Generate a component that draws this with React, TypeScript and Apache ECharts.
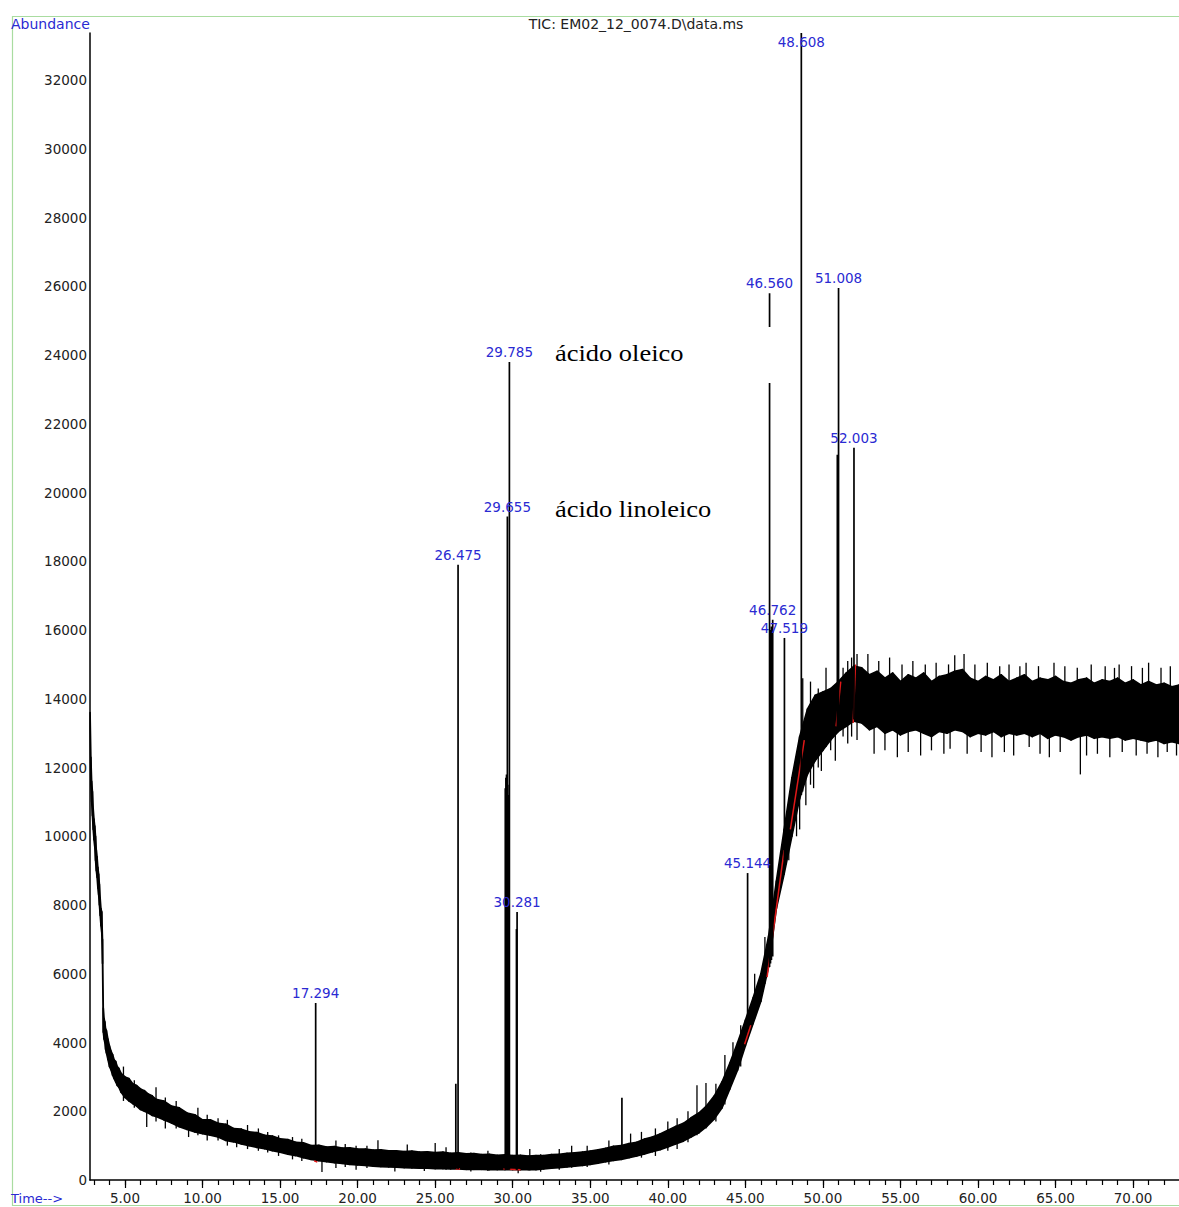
import React, { useEffect, useRef } from "react";
import * as echarts from "echarts";

// ---- data ----
const xMajorTicks = [5, 10, 15, 20, 25, 30, 35, 40, 45, 50, 55, 60, 65, 70];
const xMinorTicks = [3, 4, 5, 6, 7, 8, 9, 10, 11, 12, 13, 14, 15, 16, 17, 18, 19, 20, 21, 22, 23, 24, 25, 26, 27, 28, 29, 30, 31, 32, 33, 34, 35, 36, 37, 38, 39, 40, 41, 42, 43, 44, 45, 46, 47, 48, 49, 50, 51, 52, 53, 54, 55, 56, 57, 58, 59, 60, 61, 62, 63, 64, 65, 66, 67, 68, 69, 70, 71, 72];
const yTicks = [0, 2000, 4000, 6000, 8000, 10000, 12000, 14000, 16000, 18000, 20000, 22000, 24000, 26000, 28000, 30000, 32000];

// baseline noise band (time, upper edge, lower edge)
const bandTime = [2.75, 2.8, 2.85, 2.9, 2.95, 3.0, 3.05, 3.1, 3.15, 3.2, 3.25, 3.3, 3.35, 3.4, 3.45, 3.5, 3.55, 3.6, 3.65, 3.7, 3.75, 3.8, 3.9, 4.0, 4.1, 4.2, 4.3, 4.4, 4.5, 4.6, 4.75, 5.0, 5.25, 5.5, 5.75, 6.0, 6.25, 6.5, 6.75, 7.0, 7.5, 8.0, 8.5, 9.0, 9.5, 10.0, 10.5, 11.0, 11.5, 12.0, 12.5, 13.0, 13.5, 14.0, 14.5, 15.0, 15.5, 16.0, 16.5, 17.0, 17.5, 18.0, 18.5, 19.0, 19.5, 20.0, 20.5, 21.0, 21.5, 22.0, 22.5, 23.0, 23.5, 24.0, 24.5, 25.0, 25.5, 26.0, 26.5, 27.0, 27.5, 28.0, 28.5, 29.0, 29.5, 30.0, 30.5, 31.0, 31.5, 32.0, 32.5, 33.0, 33.5, 34.0, 34.5, 35.0, 35.5, 36.0, 36.5, 37.0, 37.5, 38.0, 38.5, 39.0, 39.5, 40.0, 40.5, 41.0, 41.5, 42.0, 42.5, 43.0, 43.5, 44.0, 44.5, 45.0, 45.5, 46.0, 46.5, 47.0, 47.5, 48.0, 48.5, 49.0, 49.5, 50.0, 50.5, 51.0, 51.5, 52.0, 52.5, 53.0, 53.5, 54.0, 54.5, 55.0, 55.5, 56.0, 56.5, 57.0, 57.5, 58.0, 58.5, 59.0, 59.5, 60.0, 60.5, 61.0, 61.5, 62.0, 62.5, 63.0, 63.5, 64.0, 64.5, 65.0, 65.5, 66.0, 66.5, 67.0, 67.5, 68.0, 68.5, 69.0, 69.5, 70.0, 70.5, 71.0, 71.5, 72.0, 72.5, 73.0];
const bandHigh = [13600, 12300, 11600, 11300, 10800, 10500, 10300, 10000, 9600, 9400, 9100, 8900, 8600, 8200, 7900, 7800, 7000, 5000, 4700, 4600, 4400, 4350, 4100, 3900, 3750, 3650, 3500, 3450, 3300, 3250, 3100, 3000, 2950, 2800, 2750, 2650, 2600, 2500, 2450, 2350, 2300, 2150, 2100, 1950, 1900, 1750, 1750, 1650, 1620, 1500, 1480, 1400, 1380, 1300, 1280, 1200, 1180, 1100, 1080, 1000, 1010, 960, 970, 930, 940, 900, 900, 870, 880, 850, 850, 830, 840, 810, 820, 800, 810, 780, 790, 760, 770, 740, 750, 720, 730, 710, 720, 700, 710, 710, 740, 750, 780, 790, 810, 840, 880, 920, 980, 1000, 1060, 1100, 1190, 1250, 1340, 1450, 1560, 1650, 1810, 1950, 2160, 2450, 2860, 3400, 4000, 4650, 5300, 6000, 7100, 8700, 10200, 11700, 12900, 13700, 14100, 14200, 14300, 14500, 14750, 14950, 14900, 14700, 14800, 14600, 14750, 14500, 14700, 14600, 14750, 14500, 14650, 14700, 14800, 14850, 14600, 14500, 14650, 14550, 14700, 14500, 14600, 14700, 14500, 14600, 14550, 14650, 14500, 14450, 14550, 14600, 14450, 14550, 14500, 14600, 14450, 14550, 14400, 14500, 14400, 14450, 14350, 14400];
const bandLow = [13100, 11500, 11000, 10600, 10200, 9900, 9700, 9300, 9000, 8800, 8500, 8300, 8000, 7700, 7400, 7200, 6300, 4300, 4100, 4000, 3800, 3700, 3500, 3300, 3200, 3050, 2950, 2850, 2750, 2700, 2550, 2400, 2300, 2220, 2150, 2050, 2000, 1950, 1880, 1850, 1750, 1660, 1550, 1470, 1400, 1350, 1300, 1250, 1150, 1110, 1050, 1000, 950, 910, 850, 810, 750, 710, 650, 600, 560, 530, 500, 480, 450, 440, 420, 400, 390, 380, 370, 360, 350, 340, 340, 330, 330, 320, 320, 310, 310, 310, 300, 300, 300, 300, 300, 300, 300, 320, 340, 360, 380, 400, 420, 450, 490, 530, 570, 600, 650, 700, 760, 820, 880, 960, 1050, 1130, 1250, 1370, 1550, 1780, 2100, 2650, 3200, 3900, 4550, 5200, 6200, 7900, 8900, 10000, 11100, 11800, 12200, 12500, 12800, 13050, 13200, 13350, 13300, 13100, 13200, 13000, 13100, 12950, 13050, 13100, 13000, 12900, 13050, 13000, 13100, 13050, 12900, 13000, 12950, 13050, 12900, 13000, 12950, 13000, 12900, 13000, 12850, 12950, 12900, 12800, 12900, 12950, 12850, 12900, 12850, 12900, 12800, 12850, 12800, 12750, 12800, 12700, 12750, 12700];

// noise spikes (time, from, to)
const spikeTime = [4.9, 5.6, 6.4, 7.0, 7.6, 8.3, 9.1, 9.7, 10.3, 11.0, 11.6, 12.2, 12.9, 13.6, 14.2, 14.9, 15.8, 16.4, 17.7, 18.6, 19.2, 19.9, 20.6, 21.31, 22.4, 23.2, 24.3, 25.0, 25.7, 27.3, 28.4, 30.35, 31.1, 31.8, 33.0, 33.8, 34.8, 36.2, 37.6, 38.3, 39.2, 40.0, 40.6, 41.3, 41.88, 42.46, 43.1, 43.68, 44.2, 44.7, 45.6, 46.26, 47.8, 48.3, 48.5, 48.7, 48.9, 49.2, 49.4, 49.7, 49.9, 50.2, 50.5, 50.8, 51.3, 51.6, 51.85, 52.2, 52.9, 53.3, 53.6, 54.0, 54.3, 54.8, 55.1, 55.5, 55.8, 56.3, 56.6, 57.0, 57.3, 57.8, 58.1, 58.2, 58.5, 59.1, 59.3, 59.8, 60.2, 60.6, 60.9, 61.4, 61.7, 62.0, 62.3, 62.7, 63.1, 63.3, 63.9, 64.0, 64.6, 64.9, 65.3, 65.6, 66.4, 66.6, 67.0, 67.3, 67.7, 68.2, 68.5, 68.8, 69.1, 69.3, 69.9, 70.2, 70.6, 70.9, 71.0, 71.6, 71.8, 72.2, 72.4, 72.8];
const spikeFrom = [2300, 2100, 1540, 1700, 1500, 1500, 1250, 1300, 1150, 1150, 1000, 950, 900, 850, 800, 700, 600, 550, 230, 350, 380, 300, 350, 450, 250, 400, 260, 400, 300, 250, 260, 200, 280, 240, 300, 360, 380, 450, 650, 650, 700, 850, 900, 1100, 1300, 1500, 1700, 2200, 2900, 3300, 4700, 5700, 9300, 10000, 10200, 11300, 10900, 11500, 11400, 12000, 11900, 12600, 12500, 12200, 12900, 12700, 12900, 12800, 13600, 12400, 13600, 12500, 13600, 12300, 13500, 12450, 13600, 12350, 13500, 12500, 13500, 12400, 13500, 12550, 13600, 13600, 12400, 13500, 12450, 13500, 12300, 13500, 12450, 13500, 12350, 13500, 13500, 12600, 13400, 12400, 12300, 13500, 12450, 13400, 13400, 11800, 12350, 13400, 12400, 13400, 12300, 13400, 13400, 12450, 13400, 12350, 13400, 12400, 13400, 12300, 13400, 12450, 13400, 12350];
const spikeTo = [3300, 2900, 2200, 2700, 2400, 2300, 1900, 2100, 1900, 1800, 1750, 1500, 1600, 1500, 1400, 1300, 1250, 1200, 800, 1150, 1050, 1000, 1000, 1160, 700, 1030, 700, 1080, 950, 800, 850, 600, 900, 750, 900, 1000, 1000, 1150, 1350, 1400, 1500, 1700, 1800, 2000, 2760, 2820, 2800, 3640, 4010, 4500, 6000, 7070, 11000, 12300, 12800, 14600, 13000, 14500, 13500, 14300, 13800, 14900, 14200, 14400, 14900, 15100, 15200, 15300, 15300, 13800, 15100, 13800, 15200, 13800, 15000, 13800, 15100, 13800, 15000, 13800, 15050, 13800, 15000, 13800, 15270, 15300, 13800, 15000, 13800, 15050, 13800, 14950, 13800, 15000, 13800, 14950, 15050, 13800, 14950, 13800, 13800, 15050, 13800, 14950, 14900, 13700, 13700, 15000, 13700, 14950, 13700, 14900, 15000, 13700, 14950, 13700, 14900, 13700, 15050, 13700, 14900, 13700, 14950, 13700];

// peaks (retention time, foot, apex, label)
const peakTime = [17.294, 26.33, 26.475, 29.52, 29.56, 29.6, 29.64, 29.655, 29.68, 29.72, 29.785, 30.24, 30.281, 37.04, 45.144, 46.56, 46.62, 46.68, 46.762, 47.519, 48.608, 50.93, 51.008, 52.003];
const peakBase = [600, 320, 320, 300, 300, 300, 300, 300, 300, 300, 300, 300, 300, 650, 4400, 6200, 6300, 6400, 6500, 9300, 11200, 13200, 13200, 13400];
const peakApex = [5150, 2800, 17900, 11400, 11700, 11800, 11600, 19300, 11500, 11200, 23800, 7300, 7800, 2390, 8930, 25800, 16000, 16100, 16300, 15770, 33370, 21100, 25950, 21300];
const peakLabel = ["17.294", "", "26.475", "", "", "", "", "29.655", "", "", "29.785", "", "30.281", "", "45.144", "46.560", "", "", "46.762", "47.519", "48.608", "", "51.008", "52.003"];

// integration baselines drawn in red (t1, v1, t2, v2)
const redStartTime = [17.2, 26.3, 29.4, 44.95, 46.4, 47.9, 50.85, 51.95];
const redStartValue = [560, 330, 320, 3950, 5900, 10200, 13200, 13300];
const redEndTime = [17.4, 26.6, 30.5, 45.35, 47.5, 48.8, 51.15, 52.1];
const redEndValue = [520, 320, 300, 4500, 9600, 12800, 14500, 15000];

const X_MIN = 2.743;
const X_MAX = 72.96;
const Y_MAX = 33370;

const NUM_FONT = "DejaVu Sans";
const BLUE = "#2a2ad2";

export default function App() {
  const ref = useRef<HTMLDivElement>(null);

  useEffect(() => {
    document.body.style.margin = "0";
    document.body.style.overflow = "hidden";
    const chart = echarts.init(ref.current!, null, { renderer: "svg" });

    // each band piece joins one sample to the next one
    const last = bandTime.length - 1;
    const bandData = bandTime.map((t, i) => {
      const j = i < last ? i + 1 : i;
      return [t, bandLow[i], bandHigh[i], i < last ? bandTime[j] : X_MAX, bandLow[j], bandHigh[j]];
    });
    const spikeData = spikeTime.map((t, i) => [t, spikeFrom[i], spikeTo[i]]);
    const peakData = peakTime.map((t, i) => [t, peakBase[i], peakApex[i], i]);
    const redData = redStartTime.map((t, i) => [t, redStartValue[i], redEndTime[i], redEndValue[i]]);

    const option: any = {
      animation: false,
      backgroundColor: "#ffffff",
      grid: { left: 90, right: 0, top: 33, bottom: 27, containLabel: false },
      xAxis: [
        {
          type: "value",
          min: X_MIN,
          max: X_MAX,
          position: "bottom",
          splitLine: { show: false },
          axisLine: { show: true, lineStyle: { color: "#000", width: 1.5 } },
          axisTick: { show: true, customValues: xMinorTicks, length: 5, lineStyle: { color: "#000", width: 1.2 } },
          axisLabel: { show: false },
        },
        {
          type: "value",
          min: X_MIN,
          max: X_MAX,
          position: "bottom",
          offset: 0,
          splitLine: { show: false },
          axisLine: { show: false },
          axisTick: { show: true, customValues: xMajorTicks, length: 8, lineStyle: { color: "#000", width: 1.2 } },
          axisLabel: {
            show: true,
            customValues: xMajorTicks,
            formatter: (v: number) => v.toFixed(2),
            fontFamily: NUM_FONT,
            fontSize: 13.5,
            color: "#222",
            margin: 11,
          },
        },
      ],
      yAxis: {
        type: "value",
        min: 0,
        max: Y_MAX,
        interval: 2000,
        splitLine: { show: false },
        axisLine: { show: true, lineStyle: { color: "#000", width: 1.5 } },
        axisTick: { show: false },
        axisLabel: {
          customValues: yTicks,
          formatter: (v: number) => String(v),
          fontFamily: NUM_FONT,
          fontSize: 13.5,
          color: "#222",
          margin: 3,
        },
      },
      series: [
        {
          type: "custom",
          name: "band",
          data: bandData,
          silent: true,
          z: 2,
          renderItem: (params: any, api: any) => {
            const p1 = api.coord([api.value(0), api.value(2)]);
            const p2 = api.coord([api.value(3), api.value(5)]);
            const p3 = api.coord([api.value(3), api.value(4)]);
            const p4 = api.coord([api.value(0), api.value(1)]);
            return {
              type: "polygon",
              shape: { points: [p1, p2, p3, p4] },
              style: { fill: "#000", stroke: "#000", lineWidth: 1.6, lineJoin: "round" },
            };
          },
        },
        {
          type: "custom",
          name: "spikes",
          data: spikeData,
          silent: true,
          z: 3,
          renderItem: (params: any, api: any) => {
            const t = api.value(0);
            const a = api.coord([t, api.value(1)]);
            const b = api.coord([t, api.value(2)]);
            return {
              type: "line",
              shape: { x1: a[0], y1: a[1], x2: b[0], y2: b[1] },
              style: { stroke: "#000", lineWidth: 1.3 },
            };
          },
        },
        {
          type: "custom",
          name: "red",
          data: redData,
          silent: true,
          z: 4,
          renderItem: (params: any, api: any) => {
            const a = api.coord([api.value(0), api.value(1)]);
            const b = api.coord([api.value(2), api.value(3)]);
            return {
              type: "line",
              shape: { x1: a[0], y1: a[1], x2: b[0], y2: b[1] },
              style: { stroke: "#e01818", lineWidth: 1.5 },
            };
          },
        },
        {
          type: "custom",
          name: "peaks",
          data: peakData,
          silent: true,
          clip: false,
          z: 5,
          renderItem: (params: any, api: any) => {
            const t = api.value(0);
            const idx = api.value(3);
            const a = api.coord([t, api.value(1)]);
            const b = api.coord([t, api.value(2)]);
            const top = params.coordSys.y;
            const children: any[] = [
              {
                type: "line",
                shape: { x1: a[0], y1: a[1], x2: b[0], y2: Math.max(b[1], top) },
                style: { stroke: "#000", lineWidth: 1.7 },
              },
            ];
            const label = peakLabel[idx];
            if (label) {
              children.push({
                type: "text",
                style: {
                  text: label,
                  x: b[0],
                  y: Math.max(b[1] - 10, top + 9),
                  align: "center",
                  verticalAlign: "middle",
                  fill: BLUE,
                  fontFamily: NUM_FONT,
                  fontSize: 13.5,
                },
                z2: 10,
              });
            }
            return { type: "group", children };
          },
        },
      ],
      graphic: [
        {
          type: "rect",
          left: 10,
          top: 14,
          shape: { width: 1200, height: 1189 },
          style: { fill: "none", stroke: "#a9dca0", lineWidth: 1.2 },
          silent: true,
          z: 50,
        },
        {
          type: "rect",
          shape: { x: 545, y: 327, width: 236, height: 56 },
          style: { fill: "#fff" },
          silent: true,
          z: 60,
        },
        {
          type: "text",
          x: 636,
          y: 24,
          style: {
            text: "TIC: EM02_12_0074.D\\data.ms",
            align: "center",
            verticalAlign: "middle",
            fill: "#222",
            fontFamily: NUM_FONT,
            fontSize: 14,
          },
          z: 70,
        },
        {
          type: "text",
          x: 11,
          y: 24,
          style: {
            text: "Abundance",
            align: "left",
            verticalAlign: "middle",
            fill: BLUE,
            fontFamily: NUM_FONT,
            fontSize: 14,
          },
          z: 70,
        },
        {
          type: "text",
          x: 11,
          y: 1198,
          style: {
            text: "Time-->",
            align: "left",
            verticalAlign: "middle",
            fill: BLUE,
            fontFamily: NUM_FONT,
            fontSize: 13,
          },
          z: 70,
        },
        {
          type: "text",
          x: 555,
          y: 353,
          scaleX: 1.15,
          style: {
            text: "ácido oleico",
            align: "left",
            verticalAlign: "middle",
            fill: "#000",
            fontFamily: "Liberation Serif",
            fontSize: 23,
          },
          z: 70,
        },
        {
          type: "text",
          x: 555,
          y: 509,
          scaleX: 1.15,
          style: {
            text: "ácido linoleico",
            align: "left",
            verticalAlign: "middle",
            fill: "#000",
            fontFamily: "Liberation Serif",
            fontSize: 23,
          },
          z: 70,
        },
      ],
    };

    chart.setOption(option);
    return () => chart.dispose();
  }, []);

  return (
    <div
      ref={ref}
      style={{ position: "absolute", left: 0, top: 0, width: 1179, height: 1207, background: "#fff" }}
    />
  );
}
